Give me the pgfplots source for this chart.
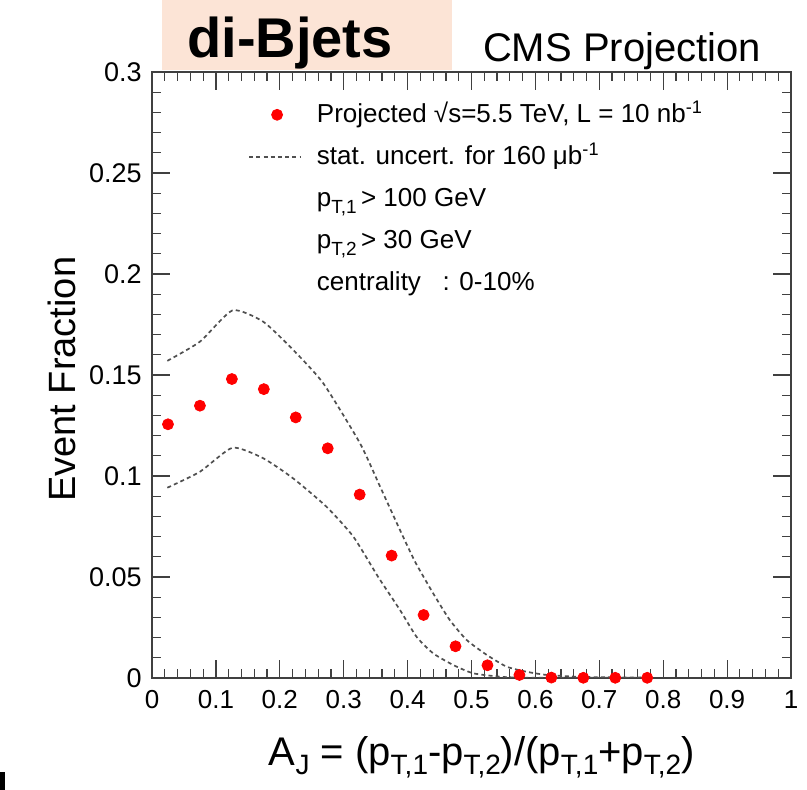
\documentclass[border=0pt]{standalone}
\usepackage{pgfplots}
\pgfplotsset{compat=1.18}
\usepackage{fontspec}
\setmainfont{Liberation Sans}
\definecolor{peach}{RGB}{252,228,214}
\definecolor{dashgray}{RGB}{80,80,80}
\pgfplotsset{
  dotlegend/.style={legend image code/.code={\draw[##1] plot coordinates {(14pt,0.5pt)};}},
  dashlegend/.style={legend image code/.code={\draw[##1] (0pt,0.5pt) -- (26pt,0.5pt);}},
}
\begin{document}
\begin{tikzpicture}
\useasboundingbox (-76pt,-56pt) rectangle (327.5pt,339pt);
\begin{axis}[
  at={(0,0)}, anchor=south west,
  scale only axis, width=319.5pt, height=303pt,
  xmin=0, xmax=1, ymin=0, ymax=0.3,
  xtick={0,0.1,0.2,0.3,0.4,0.5,0.6,0.7,0.8,0.9,1},
  xticklabels={0,0.1,0.2,0.3,0.4,0.5,0.6,0.7,0.8,0.9,1},
  ytick={0,0.05,0.1,0.15,0.2,0.25,0.3},
  yticklabels={0,0.05,0.1,0.15,0.2,0.25,0.3},
  minor x tick num=4, minor y tick num=4,
  tick align=inside, tick pos=both,
  major tick length=9pt, minor tick length=4.5pt,
  every tick/.style={black!75, line width=0.6pt},
  axis line style={black!75, line width=0.9pt},
  xticklabel style={font=\fontsize{13}{15}\selectfont, inner sep=0pt, anchor=north, yshift=-6pt},
  yticklabel style={font=\fontsize{13.5}{15}\selectfont, inner sep=0pt, anchor=east, xshift=-5pt},
  xlabel={A\raisebox{-0.45ex}{\fontsize{14}{15}\selectfont J} = (p\raisebox{-0.45ex}{\fontsize{14}{15}\selectfont T,1}-p\raisebox{-0.45ex}{\fontsize{14}{15}\selectfont T,2})/(p\raisebox{-0.45ex}{\fontsize{14}{15}\selectfont T,1}+p\raisebox{-0.45ex}{\fontsize{14}{15}\selectfont T,2})},
  ylabel={Event Fraction},
  xlabel style={font=\fontsize{20}{22}\selectfont, at={(axis description cs:0.516,-0.1436)}, anchor=base, inner sep=0pt},
  ylabel style={font=\fontsize{19}{22}\selectfont, at={(axis description cs:-0.1205,0.493)}, anchor=base, inner sep=0pt},
  legend cell align=left,
  legend style={draw=none, fill=none, at={(axis cs:0.15,0.2847)}, anchor=north west,
    font=\fontsize{13}{15}\selectfont, inner sep=0pt, row sep=8.5pt,
    nodes={inner sep=0pt, text height=9.5pt, text depth=3pt},
    /tikz/every odd column/.append style={column sep=7.5pt}},
]
\addplot[only marks, mark=*, mark size=2.75pt, color=red, dotlegend]
coordinates {
(0.025,0.1256) (0.075,0.1348) (0.125,0.1480) (0.175,0.1430) (0.225,0.1290)
(0.275,0.1137) (0.325,0.0908) (0.375,0.0606) (0.425,0.0312) (0.475,0.0157)
(0.525,0.0063) (0.575,0.0015) (0.625,0.0002) (0.675,0.0001) (0.725,0.0001)
(0.775,0.0001)};
\addlegendentry{Projected √s=5.5 TeV, L = 10 nb\textsuperscript{-1}}
\addplot[smooth, tension=0.35, dashgray, line width=0.85pt, dash pattern=on 2pt off 1.6pt, dashlegend]
coordinates {
(0.024,0.157) (0.075,0.1665) (0.126,0.182) (0.174,0.1764) (0.221,0.1624)
(0.268,0.1459) (0.3255,0.1162) (0.357,0.0947) (0.388,0.0733) (0.4116,0.0576)
(0.440,0.0419) (0.466,0.0287) (0.4925,0.0188) (0.524,0.0114) (0.555,0.0056)
(0.586,0.0031) (0.618,0.0015) (0.675,0.0005) (0.775,0.0002)};
\addlegendentry{stat. uncert. for 160 μb\textsuperscript{-1}}
\addplot[smooth, tension=0.35, dashgray, line width=0.85pt, dash pattern=on 2pt off 1.6pt, forget plot]
coordinates {
(0.024,0.0942) (0.075,0.1021) (0.126,0.114) (0.174,0.1088) (0.221,0.0988)
(0.273,0.0848) (0.315,0.070) (0.354,0.050) (0.388,0.0337) (0.414,0.0204)
(0.44,0.0122) (0.4716,0.0064) (0.503,0.0023) (0.55,0.0005) (0.6,0.0001)
(0.775,0.0001)};
\addlegendimage{empty legend}
\addlegendentry{p\raisebox{-0.55ex}{\fontsize{9.5}{10}\selectfont T,1}\,> 100 GeV}
\addlegendimage{empty legend}
\addlegendentry{p\raisebox{-0.55ex}{\fontsize{9.5}{10}\selectfont T,2}\,> 30 GeV}
\addlegendimage{empty legend}
\addlegendentry{centrality\ \ \ : 0-10\%}
\end{axis}
\fill[peach] (5pt,304pt) rectangle (150pt,339pt);
\node[anchor=base, inner sep=0pt, font=\fontsize{28}{30}\selectfont\bfseries] at (69pt,310pt) {di-Bjets};
\node[anchor=base, inner sep=0pt, font=\fontsize{20}{22}\selectfont] at (235pt,308pt) {CMS Projection};
\fill[black] (-76pt,-56pt) rectangle (-73.5pt,-47pt);
\end{tikzpicture}
\end{document}
